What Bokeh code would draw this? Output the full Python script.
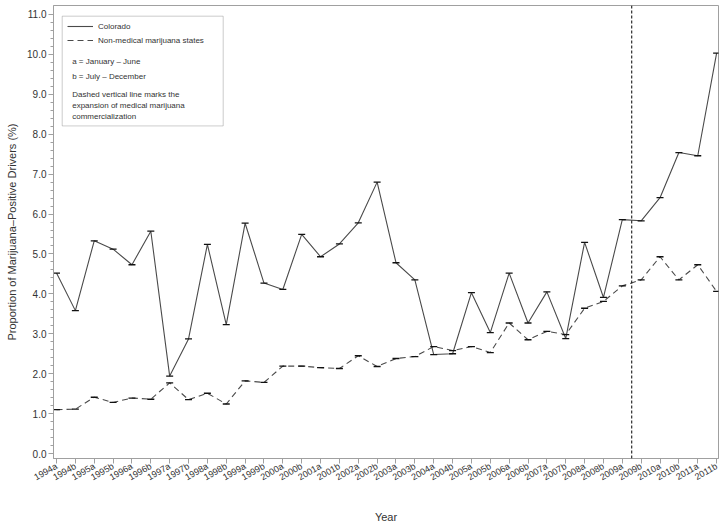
import math
from bokeh.plotting import figure
from bokeh.models import (Range1d, FixedTicker, Span, BoxAnnotation, Label,
                          Legend, LegendItem, PrintfTickFormatter)
from bokeh.embed import file_html
from bokeh.resources import INLINE

# ---------------- data ----------------
periods = ["1994a", "1994b", "1995a", "1995b", "1996a", "1996b", "1997a", "1997b",
           "1998a", "1998b", "1999a", "1999b", "2000a", "2000b", "2001a", "2001b",
           "2002a", "2002b", "2003a", "2003b", "2004a", "2004b", "2005a", "2005b",
           "2006a", "2006b", "2007a", "2007b", "2008a", "2008b", "2009a", "2009b",
           "2010a", "2010b", "2011a", "2011b"]
colorado = [4.52, 3.58, 5.33, 5.12, 4.73, 5.57, 1.94, 2.87,
            5.24, 3.23, 5.77, 4.27, 4.11, 5.49, 4.93, 5.25,
            5.78, 6.80, 4.78, 4.35, 2.48, 2.50, 4.03, 3.03,
            4.52, 3.27, 4.05, 2.88, 5.29, 3.91, 5.86, 5.83,
            6.41, 7.54, 7.46, 10.03]
non_medical = [1.10, 1.11, 1.41, 1.28, 1.39, 1.36, 1.77, 1.35,
               1.51, 1.24, 1.82, 1.78, 2.19, 2.19, 2.15, 2.13,
               2.45, 2.18, 2.38, 2.43, 2.68, 2.58, 2.68, 2.53,
               3.27, 2.85, 3.06, 2.98, 3.64, 3.81, 4.20, 4.35,
               4.93, 4.35, 4.73, 4.06]
y_ticks = [0, 1, 2, 3, 4, 5, 6, 7, 8, 9, 10, 11]
commercialization_at = 30.5   # between 2009a and 2009b

x_idx = list(range(len(periods)))

# ---------------- layout constants ----------------
X0, X1 = -0.16, 35.1
Y0, Y1 = -0.125, 11.225
FRAME_L, FRAME_R = 53.0, 718.0
SX = (FRAME_R - FRAME_L) / (X1 - X0)


def dx(px):
    return X0 + (px - FRAME_L) / SX


def dy(py):
    return (454.0 - py) / 40.0


FONT = "Liberation Sans"
INK = "#333333"

p = figure(width=722, height=525, output_backend="svg", toolbar_location=None,
           x_range=Range1d(X0, X1), y_range=Range1d(Y0, Y1),
           min_border_left=53, min_border_right=4, min_border_top=5,
           min_border_bottom=66)
p.background_fill_color = "white"
p.border_fill_color = "white"
p.outline_line_color = "#a0a0a0"
p.xgrid.visible = False
p.ygrid.visible = False

# vertical dashed line
p.add_layout(Span(location=commercialization_at, dimension="height",
                  line_color="black", line_width=1, line_dash="3 2"))

# series
r_co = p.line(x_idx, colorado, line_color="#4a4a4a", line_width=1.1)
p.scatter(x_idx, colorado, marker="dash", size=7, line_color="#111111", line_width=1.3)
r_nm = p.line(x_idx, non_medical, line_color="#4a4a4a", line_width=1.1, line_dash="6 4")
p.scatter(x_idx, non_medical, marker="dash", size=7, line_color="#111111", line_width=1.3)

# axes
xa = p.xaxis[0]
xa.ticker = FixedTicker(ticks=x_idx)
xa.major_label_overrides = {i: s for i, s in zip(x_idx, periods)}
xa.major_label_orientation = math.pi / 6
xa.axis_label = "Year"
ya = p.yaxis[0]
ya.ticker = FixedTicker(ticks=y_ticks,
                        minor_ticks=[t / 5 for t in range(0, 56)])
ya.formatter = PrintfTickFormatter(format="%.1f")
ya.axis_label = "Proportion of Marijuana\u2013Positive Drivers (%)"

for ax in (xa, ya):
    ax.axis_line_color = "#a0a0a0"
    ax.major_tick_line_color = "#a0a0a0"
    ax.minor_tick_line_color = "#a0a0a0"
    ax.major_tick_out = 5
    ax.major_tick_in = 0
    ax.minor_tick_out = 3
    ax.minor_tick_in = 0
    ax.major_label_text_font = FONT
    ax.major_label_text_color = INK
    ax.axis_label_text_font = FONT
    ax.axis_label_text_font_style = "normal"
    ax.axis_label_text_color = INK
    ax.axis_label_text_font_size = "11px"
xa.major_label_text_font_size = "9px"
xa.major_label_standoff = 2
xa.axis_label_standoff = 21
xa.minor_tick_line_color = None
ya.major_label_text_font_size = "10px"
ya.major_label_standoff = 2
ya.axis_label_standoff = 6

# legend box
p.add_layout(BoxAnnotation(left=dx(61.7), right=dx(222.7), top=dy(15.7), bottom=dy(125.7),
                           fill_color="white", fill_alpha=1.0,
                           line_color="#555555", line_width=1))

legend = Legend(items=[LegendItem(label="Colorado", renderers=[r_co]),
                       LegendItem(label="Non-medical marijuana states", renderers=[r_nm])],
                location="top_left", padding=0, margin=14, spacing=0,
                glyph_width=26, glyph_height=14, label_height=14,
                label_standoff=5, label_text_font=FONT, label_text_font_size="8px",
                label_text_color=INK, border_line_color=None,
                background_fill_alpha=0.0)
p.add_layout(legend)

notes = [("a = January \u2013 June", 61.0),
         ("b = July \u2013 December", 76.0),
         ("Dashed vertical line marks the", 94.3),
         ("expansion of medical marijuana", 105.3),
         ("commercialization", 116.3)]
for txt, py in notes:
    p.add_layout(Label(x=dx(71.7), y=dy(py), text=txt, text_font=FONT,
                       text_font_size="8px", text_color=INK,
                       text_baseline="middle", text_align="left"))

open("out.html", "w").write(file_html(p, INLINE))
